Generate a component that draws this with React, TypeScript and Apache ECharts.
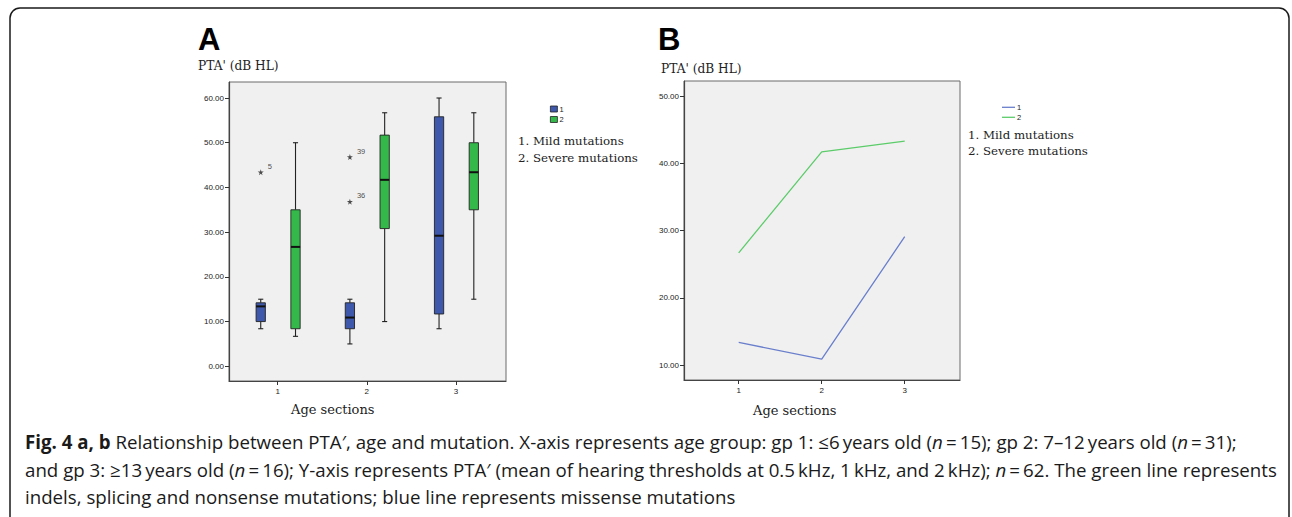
import React, { useEffect, useRef } from "react";
import * as echarts from "echarts";

// ---------- data ----------
const ageGroups = [1, 2, 3];
const xTickValues = [1, 2, 3];
const yTicksA = [0, 10, 20, 30, 40, 50, 60];
const yTicksB = [10, 20, 30, 40, 50];

// box stats: [min, q1, median, q3, max] per age group
const mildStats = [
  [8.4, 10.0, 13.4, 14.2, 15.0],
  [5.0, 8.4, 10.9, 14.2, 15.0],
  [8.4, 11.7, 29.2, 55.8, 60.0],
];
const severeStats = [
  [6.7, 8.4, 26.7, 35.0, 50.0],
  [10.0, 30.8, 41.7, 51.7, 56.7],
  [15.0, 35.0, 43.4, 50.0, 56.7],
];
// extreme outliers in the mild group: [age group, value, case id]
const outlierGroups = [1, 2, 2];
const outlierValues = [43.4, 46.8, 36.8];
const outlierIds = ["5", "39", "36"];

// panel B lines
const mildLine = [13.4, 10.9, 29.1];
const severeLine = [26.7, 41.7, 43.3];

const legendTexts = ["1. Mild mutations", "2. Severe mutations"];

// ---------- style constants ----------
const BLUE = "#3e58ac";
const GREEN = "#34b84a";
const LINE_BLUE = "#6a7fcc";
const LINE_GREEN = "#5ccc6a";
const MILD_OFFSET = -0.19;
const SEVERE_OFFSET = 0.2;
const BOX_W = 0.104;
const SERIF = "'DejaVu Serif', 'Liberation Serif', serif";
const SANS = "'Liberation Sans', Arial, sans-serif";
const CAP = "'Open Sans', 'Noto Sans', sans-serif";
const CAP_SIZE = 18.7;
const STAR =
  "path://M50,0 L61,35 L98,35 L68,57 L79,91 L50,70 L21,91 L32,57 L2,35 L39,35 Z";

function boxRows(stats: number[][], offset: number) {
  return stats.map((s, i) => [ageGroups[i] + offset, ...s]);
}

function makeRenderItem(color: string) {
  return (params: any, api: any) => {
    const x = api.value(0);
    const lo = api.coord([x, api.value(1)]);
    const q1 = api.coord([x, api.value(2)]);
    const med = api.coord([x, api.value(3)]);
    const q3 = api.coord([x, api.value(4)]);
    const hi = api.coord([x, api.value(5)]);
    const halfW = api.size([BOX_W, 0])[0] / 2;
    const capHalf = halfW * 0.55;
    const cx = lo[0];
    const wStyle = { stroke: "#222", lineWidth: 1.1 };
    return {
      type: "group",
      children: [
        { type: "line", shape: { x1: cx, y1: lo[1], x2: cx, y2: q1[1] }, style: wStyle },
        { type: "line", shape: { x1: cx, y1: q3[1], x2: cx, y2: hi[1] }, style: wStyle },
        { type: "line", shape: { x1: cx - capHalf, y1: lo[1], x2: cx + capHalf, y2: lo[1] }, style: wStyle },
        { type: "line", shape: { x1: cx - capHalf, y1: hi[1], x2: cx + capHalf, y2: hi[1] }, style: wStyle },
        {
          type: "rect",
          shape: { x: cx - halfW, y: q3[1], width: halfW * 2, height: q1[1] - q3[1] },
          style: { fill: color, stroke: "#222", lineWidth: 0.9 },
        },
        {
          type: "line",
          shape: { x1: cx - halfW, y1: med[1], x2: cx + halfW, y2: med[1] },
          style: { stroke: "#111", lineWidth: 2 },
        },
      ],
    };
  };
}

const axisLabelStyle = { fontFamily: SANS, fontSize: 8, color: "#222" };

export default function App() {
  const ref = useRef<HTMLDivElement>(null);

  useEffect(() => {
    if (!ref.current) return;
    const chart = echarts.init(ref.current, null, { renderer: "svg" });

    const captionRich = {
      b: { fontFamily: CAP, fontSize: CAP_SIZE, fontWeight: "bold", color: "#1a1a1a" },
      i: { fontFamily: CAP, fontSize: CAP_SIZE, fontStyle: "italic", color: "#1a1a1a" },
    };
    const capStyle = (text: string, y: number) => ({
      type: "text",
      x: 25,
      y,
      style: {
        text,
        rich: captionRich,
        fontFamily: CAP,
        fontSize: CAP_SIZE,
        fill: "#1a1a1a",
        verticalAlign: "middle",
      },
    });
    const serifText = (text: string, x: number, y: number, size: number) => ({
      type: "text",
      x,
      y,
      style: { text, fontFamily: SERIF, fontSize: size, fill: "#222", verticalAlign: "middle" },
    });

    const option: any = {
      animation: false,
      backgroundColor: "#ffffff",
      grid: [
        {
          show: true,
          left: 229,
          top: 82,
          width: 277,
          height: 299,
          backgroundColor: "#f0f0f0",
          borderColor: "#6a6a6a",
          borderWidth: 1,
        },
        {
          show: true,
          left: 684,
          top: 81,
          width: 276,
          height: 299,
          backgroundColor: "#f0f0f0",
          borderColor: "#6a6a6a",
          borderWidth: 1,
        },
      ],
      xAxis: [
        {
          type: "value",
          gridIndex: 0,
          min: 0.454,
          max: 3.561,
          splitLine: { show: false },
          axisLine: { show: true, onZero: false, lineStyle: { color: "#444", width: 1.2 } },
          axisTick: { show: true, length: 4, customValues: xTickValues, lineStyle: { color: "#333" } },
          axisLabel: { ...axisLabelStyle, margin: 6, customValues: xTickValues, formatter: (v: number) => String(v) },
        },
        {
          type: "value",
          gridIndex: 1,
          min: 0.341,
          max: 3.666,
          splitLine: { show: false },
          axisLine: { show: true, onZero: false, lineStyle: { color: "#444", width: 1.2 } },
          axisTick: { show: true, length: 4, customValues: xTickValues, lineStyle: { color: "#333" } },
          axisLabel: { ...axisLabelStyle, margin: 6, customValues: xTickValues, formatter: (v: number) => String(v) },
        },
      ],
      yAxis: [
        {
          type: "value",
          gridIndex: 0,
          min: -3.29,
          max: 63.58,
          splitLine: { show: false },
          axisLine: { show: true, onZero: false, lineStyle: { color: "#444", width: 1.2 } },
          axisTick: { show: true, length: 4, customValues: yTicksA, lineStyle: { color: "#333" } },
          axisLabel: { ...axisLabelStyle, margin: 5, customValues: yTicksA, formatter: (v: number) => v.toFixed(2) },
        },
        {
          type: "value",
          gridIndex: 1,
          min: 7.81,
          max: 52.23,
          splitLine: { show: false },
          axisLine: { show: true, onZero: false, lineStyle: { color: "#444", width: 1.2 } },
          axisTick: { show: true, length: 4, customValues: yTicksB, lineStyle: { color: "#333" } },
          axisLabel: { ...axisLabelStyle, margin: 5, customValues: yTicksB, formatter: (v: number) => v.toFixed(2) },
        },
      ],
      legend: [
        {
          left: 550,
          top: 105,
          orient: "vertical",
          padding: 0,
          itemWidth: 7,
          itemHeight: 6,
          itemGap: 2.5,
          selectedMode: false,
          icon: "rect",
          data: ["A1", "A2"],
          formatter: (n: string) => n.slice(1),
          textStyle: { fontFamily: SANS, fontSize: 7.5, lineHeight: 7, color: "#222", padding: [0, 0, 0, -3] },
          itemStyle: { borderColor: "#222", borderWidth: 0.8 },
        },
        {
          left: 1002,
          top: 103.3,
          orient: "vertical",
          padding: 0,
          itemWidth: 13,
          itemHeight: 1.3,
          itemGap: 2,
          selectedMode: false,
          icon: "rect",
          data: ["B1", "B2"],
          formatter: (n: string) => n.slice(1),
          textStyle: { fontFamily: SANS, fontSize: 7.5, lineHeight: 8, color: "#222", padding: [0, 0, 0, -3] },
        },
      ],
      series: [
        {
          name: "A1",
          type: "custom",
          xAxisIndex: 0,
          yAxisIndex: 0,
          itemStyle: { color: BLUE },
          renderItem: makeRenderItem(BLUE),
          encode: { x: 0, y: [1, 2, 3, 4, 5] },
          data: boxRows(mildStats, MILD_OFFSET),
        },
        {
          name: "A2",
          type: "custom",
          xAxisIndex: 0,
          yAxisIndex: 0,
          itemStyle: { color: GREEN },
          renderItem: makeRenderItem(GREEN),
          encode: { x: 0, y: [1, 2, 3, 4, 5] },
          data: boxRows(severeStats, SEVERE_OFFSET),
        },
        {
          name: "outliers",
          type: "scatter",
          xAxisIndex: 0,
          yAxisIndex: 0,
          symbol: STAR,
          symbolSize: 6,
          itemStyle: { color: "#222" },
          label: {
            show: true,
            position: "right",
            offset: [-1, -6],
            fontFamily: SANS,
            fontSize: 7.5,
            color: "#222",
            formatter: (p: any) => p.value[2],
          },
          data: outlierGroups.map((g, i) => [g + MILD_OFFSET, outlierValues[i], outlierIds[i]]),
        },
        {
          name: "B1",
          type: "line",
          xAxisIndex: 1,
          yAxisIndex: 1,
          symbol: "none",
          color: LINE_BLUE,
          itemStyle: { color: LINE_BLUE },
          lineStyle: { color: LINE_BLUE, width: 1.3 },
          data: ageGroups.map((g, i) => [g, mildLine[i]]),
        },
        {
          name: "B2",
          type: "line",
          xAxisIndex: 1,
          yAxisIndex: 1,
          symbol: "none",
          color: LINE_GREEN,
          itemStyle: { color: LINE_GREEN },
          lineStyle: { color: LINE_GREEN, width: 1.3 },
          data: ageGroups.map((g, i) => [g, severeLine[i]]),
        },
      ],
      graphic: [
        {
          type: "rect",
          shape: { x: 10, y: 8, width: 1279, height: 520, r: 10 },
          style: { fill: "none", stroke: "#1a1a1a", lineWidth: 1.5 },
          silent: true,
        },
        { type: "text", x: 198, y: 39.5, style: { text: "A", font: `bold 31px ${SANS}`, fill: "#000", verticalAlign: "middle" } },
        { type: "text", x: 658, y: 39.5, style: { text: "B", font: `bold 31px ${SANS}`, fill: "#000", verticalAlign: "middle" } },
        serifText("PTA' (dB HL)", 198, 66, 12.2),
        serifText("PTA' (dB HL)", 661, 68.5, 12.2),
        serifText(legendTexts[0], 518, 140.5, 11.8),
        serifText(legendTexts[1], 518, 157.5, 11.8),
        serifText(legendTexts[0], 968, 134.5, 11.8),
        serifText(legendTexts[1], 968, 151, 11.8),
        serifText("Age sections", 291, 409.5, 13),
        serifText("Age sections", 753, 410.5, 13),
        capStyle(
          "{b|Fig. 4 a, b} Relationship between PTA\u2032, age and mutation. X-axis represents age group: gp 1: \u22646\u2009years old ({i|n}\u2009=\u200915); gp 2: 7\u201312\u2009years old ({i|n}\u2009=\u200931);",
          441.5
        ),
        capStyle(
          "and gp 3: \u226513\u2009years old ({i|n}\u2009=\u200916); Y-axis represents PTA\u2032 (mean of hearing thresholds at 0.5\u2009kHz, 1\u2009kHz, and 2\u2009kHz); {i|n}\u2009=\u200962. The green line represents",
          469
        ),
        capStyle("indels, splicing and nonsense mutations; blue line represents missense mutations", 496),
      ],
    };

    chart.setOption(option);
    return () => chart.dispose();
  }, []);

  return (
    <div
      ref={ref}
      style={{ position: "fixed", left: 0, top: 0, width: 1292, height: 517, background: "#fff" }}
    />
  );
}
